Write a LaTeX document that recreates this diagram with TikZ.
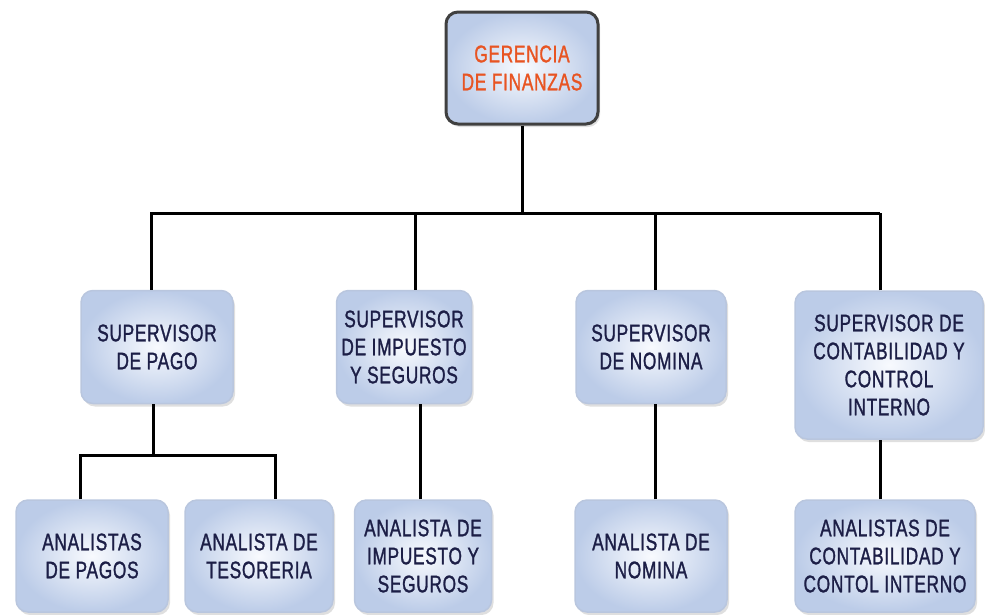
\documentclass[tikz,border=0pt]{standalone}
\usepackage{fontspec}
\setmainfont{Liberation Sans}[FakeStretch=0.72, LetterSpace=3, FakeBold=1.2]
\usetikzlibrary{shadows}
\definecolor{cajaIn}{RGB}{248,250,254}
\definecolor{cajaOut}{RGB}{188,204,232}
\definecolor{cajaBorde}{RGB}{185,198,222}
\definecolor{letra}{RGB}{28,30,70}
\definecolor{naranja}{RGB}{232,84,34}
\tikzset{
  cargo/.style={rounded corners=12pt, inner color=cajaIn, outer color=cajaOut,
    draw=cajaBorde, line width=1.5pt, align=center, text=letra,
    font=\fontsize{24}{28}\selectfont,
    drop shadow={opacity=0.25, shadow xshift=2pt, shadow yshift=-3pt}},
  linea/.style={line width=3pt, black}
}
\begin{document}
\begin{tikzpicture}[x=1pt,y=-1pt]
  \useasboundingbox (0,0) rectangle (985,614);
  % gerencia
  \node[cargo, draw=black!75, line width=3pt, text=naranja,
    minimum width=152pt, minimum height=112pt] (ger) at (522,68)
    {GERENCIA\\DE FINANZAS};
  % supervisores
  \node[cargo, minimum width=152pt, minimum height=113pt] (sp) at (157,347)
    {SUPERVISOR\\DE PAGO};
  \node[cargo, minimum width=135pt, minimum height=113pt] (si) at (404,347)
    {SUPERVISOR\\DE IMPUESTO\\Y SEGUROS};
  \node[cargo, minimum width=150pt, minimum height=113pt] (sn) at (651,347)
    {SUPERVISOR\\DE NOMINA};
  \node[cargo, minimum width=188pt, minimum height=148pt] (sc) at (889,365)
    {SUPERVISOR DE\\CONTABILIDAD Y\\CONTROL\\INTERNO};
  % analistas
  \node[cargo, minimum width=152pt, minimum height=112pt] (ap) at (92,556)
    {ANALISTAS\\DE PAGOS};
  \node[cargo, minimum width=148pt, minimum height=112pt] (at) at (259,556)
    {ANALISTA DE\\TESORERIA};
  \node[cargo, minimum width=137pt, minimum height=112pt] (ai) at (423,556)
    {ANALISTA DE\\IMPUESTO Y\\SEGUROS};
  \node[cargo, minimum width=152pt, minimum height=112pt] (an) at (651,556)
    {ANALISTA DE\\NOMINA};
  \node[cargo, minimum width=180pt, minimum height=112pt] (ac) at (885,556)
    {ANALISTAS DE\\CONTABILIDAD Y\\CONTOL INTERNO};
  % conectores
  \coordinate (bus) at (0,213);
  \coordinate (subbus) at (0,455);
  \draw[linea] (ger.south) -- (ger.south |- bus);
  \draw[linea] ([xshift=-6pt]sp.north) |- ([xshift=-9pt]sc.north |- bus);
  \draw[linea] ([xshift=11pt]si.north) -- ([xshift=11pt]si.north |- bus);
  \draw[linea] ([xshift=4pt]sn.north) -- ([xshift=4pt]sn.north |- bus);
  \draw[linea] ([xshift=-9pt]sc.north) -- ([xshift=-9pt]sc.north |- bus);
  \draw[linea] ([xshift=-4pt]sp.south) -- ([xshift=-4pt]sp.south |- subbus);
  \draw[linea] ([xshift=-12pt]ap.north) |- ([xshift=16pt]at.north |- subbus)
    -- ([xshift=16pt]at.north);
  \draw[linea] ([xshift=-3pt]ai.north) -- ([xshift=-3pt]ai.north |- si.south);
  \draw[linea] ([xshift=4pt]an.north) -- ([xshift=4pt]an.north |- sn.south);
  \draw[linea] ([xshift=-5pt]ac.north) -- ([xshift=-5pt]ac.north |- sc.south);
\end{tikzpicture}
\end{document}
